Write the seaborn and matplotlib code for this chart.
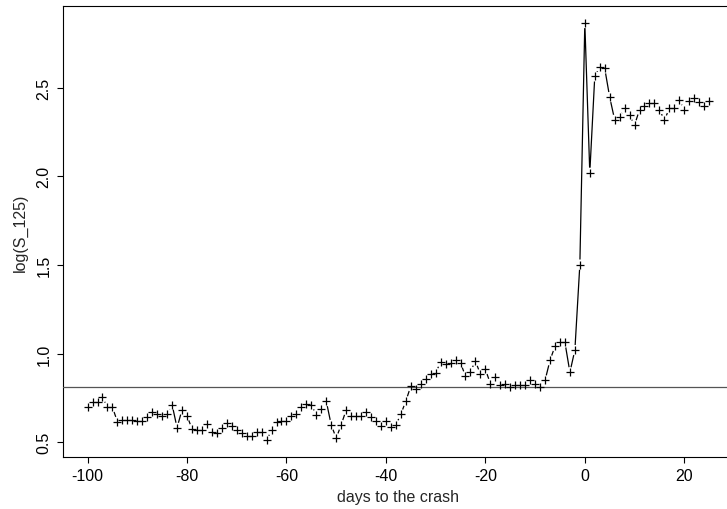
import numpy as np
import pandas as pd
import matplotlib
matplotlib.use("Agg")
import matplotlib.pyplot as plt
import seaborn as sns

sns.set_style("white")
plt.rcParams["font.family"] = ["Liberation Sans", "DejaVu Sans"]

days = np.arange(-100, 26)
log_s125 = [
    0.698, 0.726, 0.729, 0.754, 0.698, 0.698, 0.616, 0.628, 0.628, 0.628,
    0.622, 0.620, 0.643, 0.669, 0.661, 0.650, 0.661, 0.712, 0.582, 0.684,
    0.650, 0.575, 0.571, 0.571, 0.602, 0.556, 0.552, 0.580, 0.609, 0.590,
    0.568, 0.552, 0.534, 0.534, 0.556, 0.556, 0.511, 0.568, 0.613, 0.620,
    0.620, 0.650, 0.660, 0.698, 0.718, 0.711, 0.654, 0.688, 0.732, 0.598,
    0.523, 0.598, 0.682, 0.650, 0.650, 0.650, 0.669, 0.643, 0.620, 0.590,
    0.622, 0.585, 0.598, 0.658, 0.732, 0.816, 0.801, 0.830, 0.858, 0.884,
    0.892, 0.952, 0.944, 0.948, 0.963, 0.948, 0.873, 0.899, 0.958, 0.884,
    0.912, 0.831, 0.869, 0.824, 0.828, 0.812, 0.824, 0.824, 0.824, 0.854,
    0.831, 0.810, 0.849, 0.962, 1.042, 1.063, 1.063, 0.895, 1.020, 1.502,
    2.865, 2.020, 2.564, 2.619, 2.609, 2.447, 2.319, 2.332, 2.383, 2.345,
    2.289, 2.376, 2.398, 2.415, 2.415, 2.377, 2.317, 2.383, 2.387, 2.430,
    2.376, 2.424, 2.443, 2.417, 2.398, 2.424,
]
threshold = 0.814
x_ticks = [-100, -80, -60, -40, -20, 0, 20]
y_ticks = [0.5, 1.0, 1.5, 2.0, 2.5]

df = pd.DataFrame({"day": days, "value": log_s125})

W, H = 727, 510
fig = plt.figure(figsize=(W / 100, H / 100), dpi=100)
ax = fig.add_axes([62.7 / W, (H - 458) / H, (734 - 62.7) / W, (458 - 7.3) / H])

# R-style type="b": line broken around each point
sns.lineplot(data=df, x="day", y="value", sort=False, estimator=None,
             color="black", linewidth=0.9, ax=ax, zorder=1)
sns.scatterplot(data=df, x="day", y="value", marker="o", s=55, color="white",
                edgecolor="none", linewidth=0, ax=ax, zorder=2)
ax.axhline(threshold, color="#555555", linewidth=0.9, zorder=3)
sns.scatterplot(data=df, x="day", y="value", marker="+", s=30, color="black",
                linewidth=0.9, ax=ax, zorder=4)

rng = max(log_s125) - min(log_s125)
ax.set_xlim(-105, 30)
ax.set_ylim(min(log_s125) - 0.04 * rng, max(log_s125) + 0.04 * rng)
ax.set_xticks(x_ticks)
ax.set_yticks(y_ticks)
ax.set_xticklabels([str(t) for t in x_ticks])
ax.set_yticklabels([f"{t:.1f}" for t in y_ticks], rotation=90, va="center")
ax.tick_params(direction="out", length=4, width=0.8, labelsize=11.5,
               colors="black", left=True, bottom=True, pad=4)
ax.set_xlabel("days to the crash", fontsize=11.5, labelpad=4)
ax.set_ylabel("log(S_125)", fontsize=11.5, labelpad=6)

for side in ["left", "top", "bottom"]:
    ax.spines[side].set_color("black")
    ax.spines[side].set_linewidth(0.8)
ax.spines["right"].set_visible(False)

fig.savefig("out.png", dpi=100)
